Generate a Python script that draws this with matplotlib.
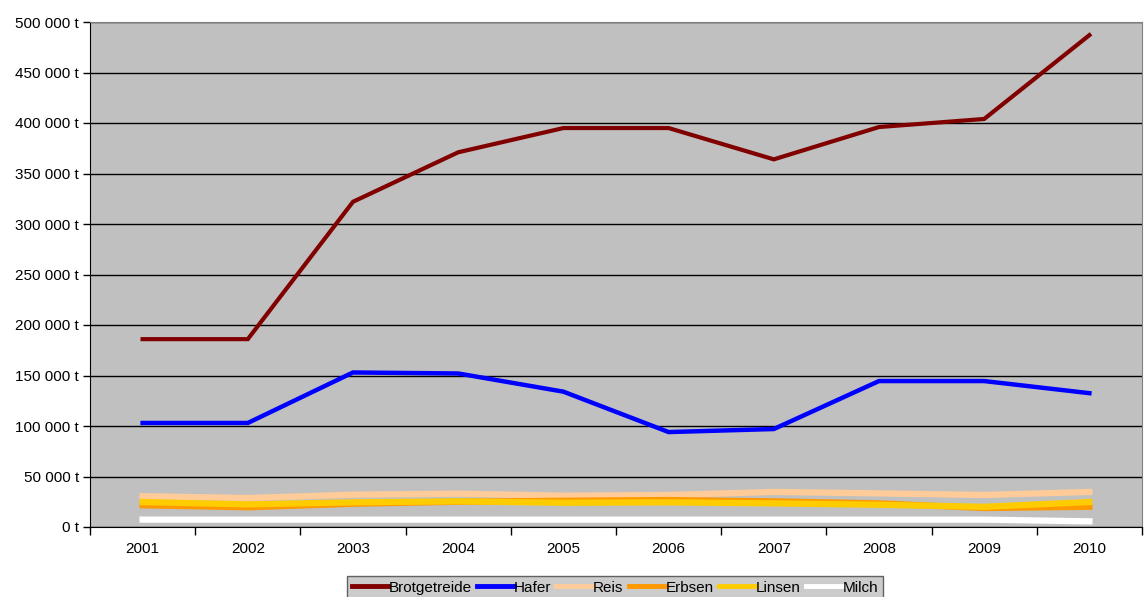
import matplotlib
matplotlib.use("Agg")
import matplotlib.pyplot as plt
from matplotlib.ticker import FuncFormatter, FixedLocator

plt.rcParams['font.family'] = ['Liberation Sans', 'DejaVu Sans']

years = ["2001", "2002", "2003", "2004", "2005", "2006", "2007", "2008", "2009", "2010"]
brotgetreide = [186000, 186000, 322000, 371000, 395000, 395000, 364000, 396000, 404000, 487000]
hafer = [103000, 103000, 153000, 152000, 134000, 94000, 97000, 144500, 144500, 132500]
reis = [30500, 28700, 32000, 33000, 31000, 31700, 34700, 33300, 31700, 34700]
erbsen = [21500, 19500, 23000, 25000, 26000, 26700, 25400, 23400, 18800, 20000]
linsen = [24700, 22400, 24400, 25400, 24000, 24400, 23400, 22000, 20000, 24700]
milch = [7300, 7300, 7300, 7300, 7300, 7300, 7300, 7300, 7300, 5600]
yticks = [0, 50000, 100000, 150000, 200000, 250000, 300000, 350000, 400000, 450000, 500000]

series = [
    ("Brotgetreide", brotgetreide, "#800000", 3.0),
    ("Hafer", hafer, "#0000FF", 3.2),
    ("Reis", reis, "#FFCC99", 4.5),
    ("Erbsen", erbsen, "#FF9900", 4.5),
    ("Linsen", linsen, "#FFCC00", 4.5),
    ("Milch", milch, "#FFFFFF", 4.5),
]

fig = plt.figure(figsize=(11.45, 5.97), dpi=100)
ax = fig.add_axes([90/1145, 1-527/597, (1142-90)/1145, (527-22)/597])
ax.set_facecolor("#C0C0C0")

x = list(range(1, len(years)+1))
for name, vals, col, lw in series:
    ax.plot(x, vals, color=col, lw=lw, label=name, solid_joinstyle='miter', zorder=3)

ax.set_xlim(0.5, len(years)+0.5)
ax.set_ylim(0, 500000)
ax.set_yticks(yticks)
ax.yaxis.set_major_formatter(FuncFormatter(lambda v, p: (f"{int(v):,}".replace(",", " ") + " t")))
ax.yaxis.grid(True, color="black", lw=1)
ax.set_axisbelow(True)

ax.xaxis.set_major_locator(FixedLocator([i+0.5 for i in range(0, len(years)+1)]))
ax.xaxis.set_major_formatter(FuncFormatter(lambda v, p: ""))
ax.xaxis.set_minor_locator(FixedLocator(x))
ax.set_xticklabels(years, minor=True)
ax.tick_params(axis='x', which='major', length=6, width=1, color='black', direction='out')
ax.tick_params(axis='x', which='minor', length=0, pad=11, labelsize=11)
ax.tick_params(axis='y', length=5, width=1, direction='out', labelsize=11, pad=3)

for s in ["top", "right"]:
    ax.spines[s].set_color("#808080")
for s in ["left", "bottom"]:
    ax.spines[s].set_color("black")

leg = fig.legend(loc="upper center", bbox_to_anchor=(615/1145, 1-576/597), ncol=6,
                 frameon=True, fontsize=11, handlelength=2.4, handletextpad=0.0,
                 columnspacing=0.35, borderpad=0.3, borderaxespad=0, fancybox=False)
leg.get_frame().set_facecolor("#C0C0C0")
leg.get_frame().set_edgecolor("#404040")
leg.get_frame().set_linewidth(1)
for h in leg.get_lines():
    h.set_linewidth(3.5)

fig.savefig("out.png", dpi=100, facecolor="white")
